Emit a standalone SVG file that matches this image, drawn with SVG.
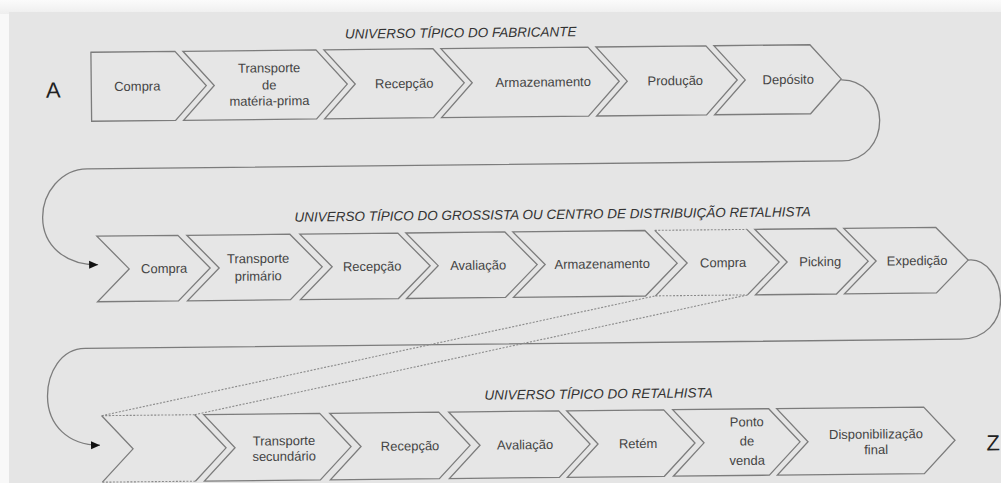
<svg xmlns="http://www.w3.org/2000/svg" width="1001" height="483" viewBox="0 0 1001 483">
  <defs>
    <linearGradient id="topfade" x1="0" y1="0" x2="0" y2="1">
      <stop offset="0" stop-color="#fbfbfb"/>
      <stop offset="1" stop-color="#eeeeee"/>
    </linearGradient>
    <marker id="arr" viewBox="0 0 10 10" refX="10" refY="5" markerWidth="10" markerHeight="9" markerUnits="userSpaceOnUse" orient="auto">
      <path d="M0,0.5 L10,5 L0,9.5 Z" fill="#111"/>
    </marker>
    <style>
      .box { fill: #e6e6e6; stroke: #7c7c7c; stroke-width: 1.3; stroke-linejoin: miter; }
      .side { fill: none; stroke: #7c7c7c; stroke-width: 1.3; }
      .dot { fill: none; stroke: #8a8a8a; stroke-width: 1.1; stroke-dasharray: 2 1.5; }
      .conn { fill: none; stroke: #7c7c7c; stroke-width: 1.3; }
      .lbl { font-family: "Liberation Sans", Arial, sans-serif; font-size: 13px; fill: #444; text-anchor: middle; }
      .ttl { font-family: "Liberation Sans", Arial, sans-serif; font-size: 13.5px; font-style: italic; fill: #333; text-anchor: middle; }
      .big { font-family: "Liberation Sans", Arial, sans-serif; font-size: 22px; fill: #222; text-anchor: middle; }
    </style>
  </defs>

  <rect x="0" y="0" width="1001" height="483" fill="#f8f8f8"/>
  <rect x="0" y="0" width="1001" height="14" fill="url(#topfade)"/>
  <rect x="9" y="12" width="992" height="471" fill="#e5e5e5"/>

  <g transform="rotate(-0.6 500 250)">
    <!-- titles -->
    <text class="ttl" x="463" y="37">UNIVERSO TÍPICO DO FABRICANTE</text>
    <text class="ttl" x="553" y="219.5">UNIVERSO TÍPICO DO GROSSISTA OU CENTRO DE DISTRIBUIÇÃO RETALHISTA</text>
    <text class="ttl" x="597" y="399.5">UNIVERSO TÍPICO DO RETALHISTA</text>

    <text class="big" x="55" y="93">A</text>
    <text class="big" x="991" y="455.5">Z</text>

    <!-- connectors -->
    <g id="connectors">
      <path class="conn" d="M843,83.5 C866,83.5 881,103 881,124 C881,146 866,164.5 843,164.5 L88,164.5 C62,164.5 43,188 43,213 C43,240 64,260.5 98,260.5" marker-end="url(#arr)"/>
      <path class="conn" d="M968,265 C986,263 1000,284 1000,305 C1000,327 984,344 960,344 L84,344 C60,344 46,368 46,392 C46,420 66,441 98,441" marker-end="url(#arr)"/>
      <path class="dot" d="M100,411.5 L655,297.5"/>
      <path class="dot" d="M193,411.5 L747,297.5"/>
    </g>

    <!-- row 1 -->
    <g id="r1-compra">
      <path class="box" d="M93,48 L177,48 L208,82.5 L177,117 L93,117 Z"/>
      <text class="lbl" x="139" y="87">Compra</text>
    </g>
    <g id="r1-transporte">
      <path class="box" d="M185,48 L318,48 L349,82.5 L318,117 L185,117 L216,82.5 Z"/>
      <text class="lbl" x="271" y="70">Transporte</text>
      <text class="lbl" x="271" y="87">de</text>
      <text class="lbl" x="271" y="103">matéria-prima</text>
    </g>
    <g id="r1-recepcao">
      <path class="box" d="M326,48 L435,48 L466,82.5 L435,117 L326,117 L357,82.5 Z"/>
      <text class="lbl" x="406" y="87">Recepção</text>
    </g>
    <g id="r1-armazenamento">
      <path class="box" d="M443,48 L590,48 L621,82.5 L590,117 L443,117 L474,82.5 Z"/>
      <text class="lbl" x="545" y="87">Armazenamento</text>
    </g>
    <g id="r1-producao">
      <path class="box" d="M598,48 L708,48 L739,82.5 L708,117 L598,117 L629,82.5 Z"/>
      <text class="lbl" x="677" y="87">Produção</text>
    </g>
    <g id="r1-deposito">
      <path class="box" d="M716,48 L812,48 L843,82.5 L812,117 L716,117 L747,82.5 Z"/>
      <text class="lbl" x="790" y="87">Depósito</text>
    </g>

    <!-- row 2 -->
    <g id="r2-compra">
      <path class="box" d="M97,232 L178,232 L210,265 L178,297.5 L97,297.5 L129,265 Z"/>
      <text class="lbl" x="164" y="269.5">Compra</text>
    </g>
    <g id="r2-transporte">
      <path class="box" d="M187,232 L290,232 L322,265 L290,297.5 L187,297.5 L219,265 Z"/>
      <text class="lbl" x="258" y="260.5">Transporte</text>
      <text class="lbl" x="258" y="278">primário</text>
    </g>
    <g id="r2-recepcao">
      <path class="box" d="M300,232 L398,232 L430,265 L398,297.5 L300,297.5 L332,265 Z"/>
      <text class="lbl" x="372" y="269.5">Recepção</text>
    </g>
    <g id="r2-avaliacao">
      <path class="box" d="M406,232 L505,232 L537,265 L505,297.5 L406,297.5 L438,265 Z"/>
      <text class="lbl" x="478" y="269.5">Avaliação</text>
    </g>
    <g id="r2-armazenamento">
      <path class="box" d="M513,232 L645,232 L677,265 L645,297.5 L513,297.5 L545,265 Z"/>
      <text class="lbl" x="602" y="269.5">Armazenamento</text>
    </g>
    <g id="r2-compra2">
      <path class="box" style="stroke:none" d="M655,232 L747,232 L779,265 L747,297.5 L655,297.5 L687,265 Z"/>
      <path class="dot" d="M655,232 L747,232 M655,297.5 L747,297.5"/>
      <path class="side" d="M655,232 L687,265 L655,297.5 M747,232 L779,265 L747,297.5"/>
      <text class="lbl" x="723" y="269.5">Compra</text>
    </g>
    <g id="r2-picking">
      <path class="box" d="M755,232 L836,232 L868,265 L836,297.5 L755,297.5 L787,265 Z"/>
      <text class="lbl" x="820" y="269.5">Picking</text>
    </g>
    <g id="r2-expedicao">
      <path class="box" d="M844,232 L936,232 L968,265 L936,297.5 L844,297.5 L876,265 Z"/>
      <text class="lbl" x="917" y="269.5">Expedição</text>
    </g>

    <!-- row 3 -->
    <g id="r3-vazio">
      <path class="box" style="stroke:none" d="M100,411.5 L193,411.5 L224,445 L193,478 L100,478 L131,445 Z"/>
      <path class="dot" d="M100,411.5 L193,411.5 M100,478 L193,478"/>
      <path class="side" d="M100,411.5 L131,445 L100,478 M193,411.5 L224,445 L193,478"/>
    </g>
    <g id="r3-transporte">
      <path class="box" d="M202,411.5 L318,411.5 L349,445 L318,478 L202,478 L233,445 Z"/>
      <text class="lbl" x="282" y="443">Transporte</text>
      <text class="lbl" x="282" y="458.5">secundário</text>
    </g>
    <g id="r3-recepcao">
      <path class="box" d="M328,411.5 L437,411.5 L468,445 L437,478 L328,478 L359,445 Z"/>
      <text class="lbl" x="408" y="449.5">Recepção</text>
    </g>
    <g id="r3-avaliacao">
      <path class="box" d="M447,411.5 L557,411.5 L588,445 L557,478 L447,478 L478,445 Z"/>
      <text class="lbl" x="523" y="449.5">Avaliação</text>
    </g>
    <g id="r3-retem">
      <path class="box" d="M565,411.5 L662,411.5 L693,445 L662,478 L565,478 L596,445 Z"/>
      <text class="lbl" x="636" y="449.5">Retém</text>
    </g>
    <g id="r3-ponto">
      <path class="box" d="M671,411.5 L767,411.5 L798,445 L767,478 L671,478 L702,445 Z"/>
      <text class="lbl" x="745" y="429">Ponto</text>
      <text class="lbl" x="745" y="448">de</text>
      <text class="lbl" x="745" y="467.5">venda</text>
    </g>
    <g id="r3-disponibilizacao">
      <path class="box" d="M775,411.5 L922,411.5 L953,445 L922,478 L775,478 L806,445 Z"/>
      <text class="lbl" x="874" y="442.5">Disponibilização</text>
      <text class="lbl" x="874" y="458">final</text>
    </g>
  </g>
</svg>
